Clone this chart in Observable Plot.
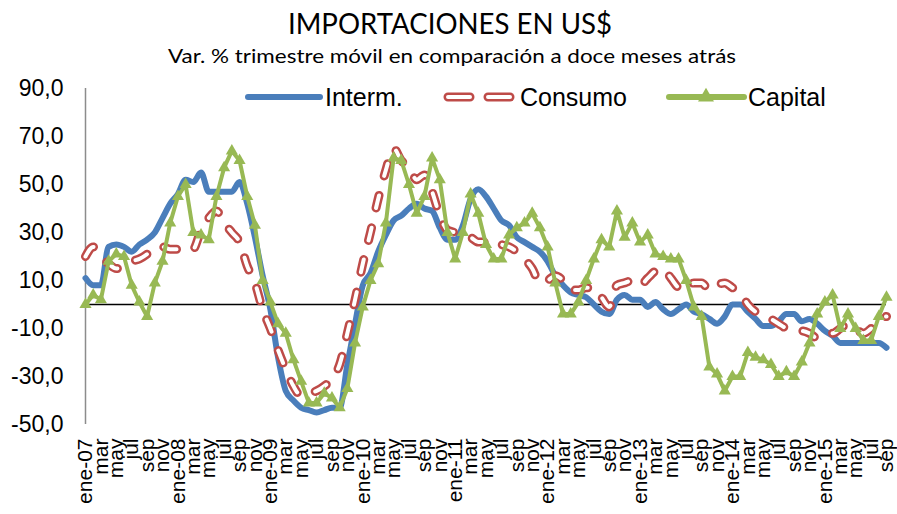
<!DOCTYPE html>
<html>
<head>
<meta charset="utf-8">
<script src="https://cdn.jsdelivr.net/npm/d3@7"></script>
<script src="https://cdn.jsdelivr.net/npm/@observablehq/plot@0.6"></script>
<style>
  body { margin: 0; background: #fff; }
  #wrap { position: relative; width: 897px; height: 514px; overflow: hidden; background: #fff; }
  #chart { position: absolute; left: 0; top: 70px; }
  #chart svg { overflow: visible; }
  #overlay { position: absolute; left: 0; top: 0; pointer-events: none; }
</style>
</head>
<body>
<div id="wrap">
  <div id="chart"></div>
  <svg id="overlay" width="897" height="130"></svg>
</div>
<script>
// ---- data ----
const titulo = "IMPORTACIONES EN US$";
const subtitulo = "Var. % trimestre móvil en comparación a doce meses atrás";
const anios = ["07","08","09","10","11","12","13","14","15"];
const meses = ["ene","feb","mar","abr","may","jun","jul","ago","sep","oct","nov","dic"];
const series = ["Interm.", "Consumo", "Capital"];
const yTicks = [90, 70, 50, 30, 10, -10, -30, -50];

const interm = [
  11, 8, 8, 24, 25, 24, 22, 25, 27, 30, 36, 42,
  46, 52, 51, 55, 47, 47, 47, 47, 51, 42, 28, 12,
  -2, -22, -36, -40, -43, -44, -45, -44, -43, -43, -25, -8,
  8, 13, 22, 29, 35, 37, 40, 42, 40, 39, 32, 27,
  27, 33, 44, 48, 45, 40, 35, 33, 28, 26, 24, 22,
  18, 12, 8, 5, 4, 3, 0, -3, -4, 2, 4, 2,
  2, -1, 1, -2, -4, -2, 0, -3, -4, -6, -8, -5,
  0, 0, -3, -6, -9, -9, -7, -4, -4, -7, -6, -8,
  -11, -13, -16, -16, -16, -16, -16, -16, -18
];
const consumo = [
  20, 24, 20, 17, 15, 16, 18, 19, 21, 24, 24, 23,
  23, 22, 23, 31, 36, 39, 34, 30, 26, 16, 9, -2,
  -10, -19, -27, -34, -38, -37, -36, -34, -31, -25, -12, 2,
  17, 30, 44, 56, 65, 60, 57, 52, 54, 47, 37, 31,
  30, 29, 28, 26, 26, 27, 25, 24, 22, 19, 15, 9,
  10, 12, 10, 6, 6, 7, 7, 3, -1, 8, 9, 10,
  8, 11, 14, 15, 11, 7, 6, 9, 9, 6, 8, 9,
  7, 5, 0, -3, -4, -6, -8, -10, -11, -11, -12, -14,
  -12, -12, -10, -8, -10, -12, -10, -6, -5
];
const capital = [
  0, 4, 2, 18, 21, 20, 8, 1, -5, 9, 18, 34,
  45, 50, 30, 29, 27, 45, 57, 64, 60, 45, 33, 10,
  1, -8, -12, -23, -32, -41, -41, -37, -39, -43, -35, -16,
  -1, 10, 17, 34, 61, 60, 50, 38, 45, 61, 52, 30,
  19, 30, 46, 38, 25, 19, 19, 29, 32, 34, 38, 32,
  24, 9, -4, -4, 1, 10, 19, 27, 24, 39, 28, 34,
  26, 29, 21, 20, 19, 19, 10, -1, -5, -26, -29, -36,
  -30, -30, -20, -22, -23, -25, -30, -28, -30, -24, -16, -4,
  1, 4, -10, -4, -10, -15, -15, -5, 3
];

// ---- derived tables ----
const periodos = anios.flatMap(a => meses.map(m => ({m, a}))).slice(0, interm.length);
const toRows = vals => vals.map((v, i) => ({i, v}));
const dInterm = toRows(interm), dConsumo = toRows(consumo), dCapital = toRows(capital);
const xTicks = d3.range(0, periodos.length, 2);
const fmtX = i => { const p = periodos[i]; return p.m === "ene" ? `${p.m}-${p.a}` : p.m; };
const fmtY = d => d.toFixed(1).replace(".", ",");

const colors = {interm: "#4A7EBB", consumo: "#BE4B48", capital: "#98B954"};
const dash = "13,20";

const chart = Plot.plot({
  width: 897,
  height: 444,
  marginTop: 18,
  marginBottom: 90,
  marginLeft: 85,
  marginRight: 11,
  style: {fontFamily: "'Liberation Sans', Arial, sans-serif", color: "#000", background: "transparent", overflow: "visible"},
  x: {type: "linear", domain: [0, periodos.length - 1]},
  y: {domain: [-50, 90]},
  marks: [
    Plot.axisY({ticks: yTicks, tickFormat: fmtY, tickSize: 0, tickPadding: 22, fontSize: 23, label: null}),
    Plot.axisX({ticks: xTicks, tickFormat: fmtX, tickSize: 0, tickPadding: 14, tickRotate: -90, fontSize: 21, label: null}),
    Plot.ruleX([0], {y1: -50, y2: 90, stroke: "#8c8c8c", strokeWidth: 1.5}),
    Plot.ruleY([0], {stroke: "#000", strokeWidth: 1.5}),
    Plot.line(dInterm, {x: "i", y: "v", stroke: colors.interm, strokeWidth: 6, curve: "monotone-x", strokeLinejoin: "round"}),
    Plot.line(dConsumo, {x: "i", y: "v", stroke: colors.consumo, strokeWidth: 9, strokeDasharray: dash, strokeLinecap: "round", curve: "monotone-x"}),
    Plot.line(dConsumo, {x: "i", y: "v", stroke: "#fff", strokeWidth: 4, strokeDasharray: dash, strokeLinecap: "round", curve: "monotone-x"}),
    Plot.line(dCapital, {x: "i", y: "v", stroke: colors.capital, strokeWidth: 4, strokeLinejoin: "round"}),
    Plot.dot(dCapital, {x: "i", y: "v", symbol: "triangle", r: 4.5, fill: colors.capital, stroke: "none"})
  ]
});
document.getElementById("chart").appendChild(chart);

// ---- title, subtitle and legend ----
const ov = d3.select("#overlay");
ov.append("text").attr("x", 288).attr("y", 34).attr("textLength", 324).attr("lengthAdjust", "spacingAndGlyphs")
  .style("font-family", "Lato, 'Open Sans', sans-serif").style("font-size", "29px").text(titulo);
ov.append("text").attr("x", 168).attr("y", 63).attr("textLength", 568).attr("lengthAdjust", "spacingAndGlyphs")
  .style("font-family", "Lato, 'Open Sans', sans-serif").style("font-size", "20px").style("font-weight", 400).text(subtitulo);

const ly = 97, lfs = "25px";
const lf = "'Liberation Sans', Arial, sans-serif";
// Interm.
ov.append("line").attr("x1", 248).attr("x2", 320).attr("y1", ly).attr("y2", ly)
  .attr("stroke", colors.interm).attr("stroke-width", 6).attr("stroke-linecap", "round");
ov.append("text").attr("x", 325).attr("y", ly + 9).style("font-family", lf).style("font-size", lfs).text(series[0]);
// Consumo
ov.append("line").attr("x1", 448).attr("x2", 514).attr("y1", ly).attr("y2", ly)
  .attr("stroke", colors.consumo).attr("stroke-width", 9).attr("stroke-linecap", "round").attr("stroke-dasharray", "22,18");
ov.append("line").attr("x1", 448).attr("x2", 514).attr("y1", ly).attr("y2", ly)
  .attr("stroke", "#fff").attr("stroke-width", 4).attr("stroke-linecap", "round").attr("stroke-dasharray", "22,18");
ov.append("text").attr("x", 520).attr("y", ly + 9).style("font-family", lf).style("font-size", lfs).text(series[1]);
// Capital
ov.append("line").attr("x1", 669).attr("x2", 744).attr("y1", ly).attr("y2", ly)
  .attr("stroke", colors.capital).attr("stroke-width", 6).attr("stroke-linecap", "round");
ov.append("path").attr("d", d3.symbol(d3.symbolTriangle, 110)()).attr("transform", `translate(706,${ly})`)
  .attr("fill", colors.capital);
ov.append("text").attr("x", 748).attr("y", ly + 9).style("font-family", lf).style("font-size", lfs).text(series[2]);
</script>
</body>
</html>
